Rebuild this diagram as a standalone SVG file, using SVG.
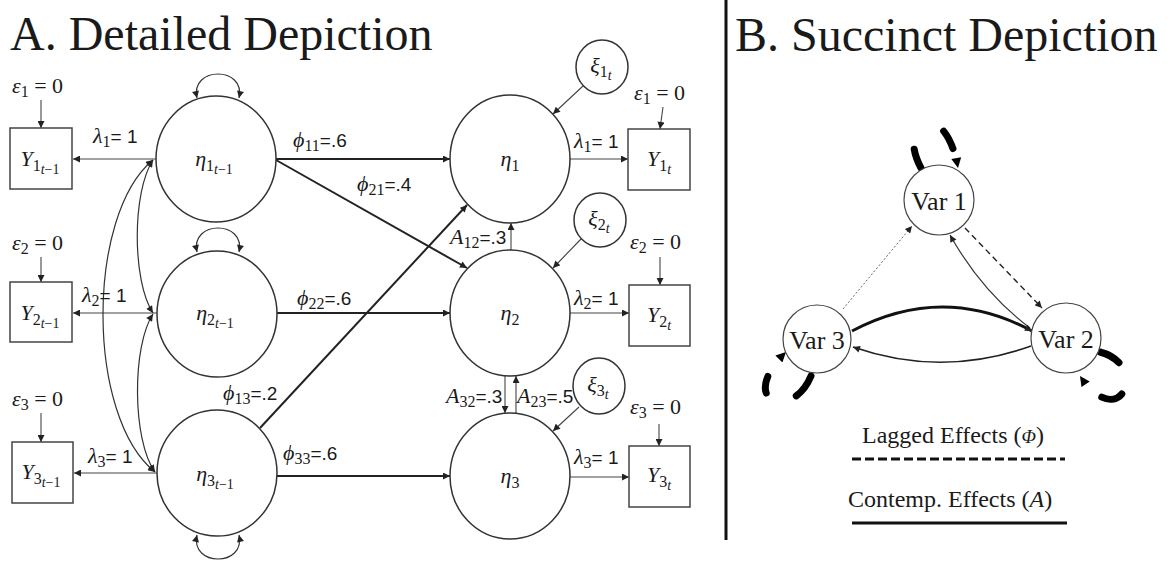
<svg xmlns="http://www.w3.org/2000/svg" width="1173" height="565" viewBox="0 0 1173 565">
<style>
text{fill:#1a1a1a}
.title{font-family:"Liberation Serif","Times New Roman","DejaVu Serif",serif;font-size:48px}
.gi{font-family:"Liberation Serif","Times New Roman","DejaVu Serif",serif;font-style:italic;font-size:22px}
.sb{font-family:"Liberation Serif","Times New Roman","DejaVu Serif",serif;font-size:16px;font-style:normal}
.ss{font-family:"Liberation Serif","Times New Roman","DejaVu Serif",serif;font-size:14px}
.it{font-style:italic}
.sn{font-family:"Liberation Sans",Arial,sans-serif;font-size:19px}
.eq{font-family:"Liberation Serif","Times New Roman","DejaVu Serif",serif;font-size:22px}
.var{font-family:"Liberation Serif","Times New Roman","DejaVu Serif",serif;font-size:26px}
.leg{font-family:"Liberation Serif","Times New Roman","DejaVu Serif",serif;font-size:24px}
.node{fill:#fff;stroke:#333;stroke-width:1.5}
.box{fill:#fff;stroke:#444;stroke-width:1.5}
.thin{fill:none;stroke:#444;stroke-width:1.1;marker-end:url(#ah)}
.thick{fill:none;stroke:#222;stroke-width:2;marker-end:url(#ah)}
.cov{fill:none;stroke:#333;stroke-width:1.2;marker-start:url(#ah);marker-end:url(#ah)}
.loopd{fill:none;stroke:#000;stroke-width:7;stroke-linecap:round;marker-end:url(#ahb)}
</style>
<defs>
<marker id="ah" viewBox="0 0 10 10" refX="10" refY="5" markerWidth="8" markerHeight="7" markerUnits="userSpaceOnUse" orient="auto-start-reverse"><path d="M0,0 L10,5 L0,10 z" fill="#222"/></marker>
<marker id="ahb" viewBox="0 0 10 10" refX="10" refY="5" markerWidth="12" markerHeight="10" markerUnits="userSpaceOnUse" orient="auto"><path d="M0,0 L10,5 L0,10 z" fill="#000"/></marker>
</defs>
<rect width="1173" height="565" fill="#fff"/>

<text class="title" x="10" y="50">A. Detailed Depiction</text>
<text class="title" x="735" y="51">B. Succinct Depiction</text>
<line x1="726" y1="0" x2="726" y2="540" stroke="#111" stroke-width="3"/>

<g id="connectors">
  <line class="thin" x1="41" y1="100" x2="41" y2="128"/>
  <line class="thin" x1="41" y1="257" x2="41" y2="282"/>
  <line class="thin" x1="41" y1="413" x2="41" y2="442"/>
  <line class="thin" x1="157" y1="159" x2="73" y2="159"/>
  <line class="thin" x1="157" y1="313" x2="73" y2="313"/>
  <line class="thin" x1="157" y1="473" x2="74" y2="473"/>
  <path class="cov" d="M153,160 C132,192 132,281 153,313"/>
  <path class="cov" d="M153,314 C132,346 132,440 155,472"/>
  <path class="cov" d="M153,160 C86,215 86,417 155,472"/>
  <path class="cov" d="M197,98 C190,66 246,66 239,98"/>
  <path class="cov" d="M197,252 C190,220 246,220 239,252"/>
  <path class="cov" d="M197,535 C190,567 246,567 239,535"/>
  <line class="thick" x1="276" y1="159" x2="450" y2="159"/>
  <line class="thick" x1="276" y1="160" x2="467" y2="268"/>
  <line class="thick" x1="260" y1="428" x2="467" y2="205"/>
  <line class="thick" x1="277" y1="313" x2="450" y2="313"/>
  <line class="thick" x1="277" y1="476" x2="450" y2="476"/>
  <line class="thin" x1="511" y1="250" x2="511" y2="223"/>
  <line class="thin" x1="505" y1="376" x2="505" y2="413"/>
  <line class="thin" x1="516" y1="413" x2="516" y2="376"/>
  <line class="thin" x1="583" y1="86" x2="553" y2="114"/>
  <line class="thin" x1="581" y1="239" x2="553" y2="268"/>
  <line class="thin" x1="579" y1="407" x2="553" y2="431"/>
  <line class="thin" x1="570" y1="159" x2="628" y2="159"/>
  <line class="thin" x1="570" y1="313" x2="629" y2="313"/>
  <line class="thin" x1="570" y1="477" x2="629" y2="477"/>
  <line class="thin" x1="663" y1="107" x2="660" y2="129"/>
  <line class="thin" x1="660" y1="257" x2="660" y2="285"/>
  <line class="thin" x1="659" y1="424" x2="659" y2="446"/>

  <line x1="843" y1="309" x2="912" y2="226" fill="none" stroke="#666" stroke-width="1" stroke-dasharray="2 2" marker-end="url(#ah)"/>
  <line x1="965" y1="228" x2="1042" y2="308" fill="none" stroke="#222" stroke-width="1.4" stroke-dasharray="6 4" marker-end="url(#ah)"/>
  <path d="M1030,328 Q982,292 950,235" fill="none" stroke="#333" stroke-width="1.2" marker-end="url(#ah)"/>
  <path d="M852,331 Q943,283 1032,331" fill="none" stroke="#111" stroke-width="3" marker-end="url(#ah)"/>
  <path d="M1031,346 Q942,378 853,347" fill="none" stroke="#222" stroke-width="1.6" marker-end="url(#ah)"/>
  <path class="loopd" d="M921,168 C895,120 945,95 958,168" stroke-dasharray="20 53 20 80"/>
  <path class="loopd" d="M811,376 C792,422 735,402 786,352" stroke-dasharray="25 35 17 80"/>
  <path class="loopd" d="M1100,352 C1150,365 1120,435 1080,376" stroke-dasharray="22 34 22 80"/>

  <line x1="852" y1="459" x2="1065" y2="459" stroke="#111" stroke-width="3" stroke-dasharray="9 4"/>
  <line x1="852" y1="523" x2="1067" y2="523" stroke="#111" stroke-width="3"/>
</g>

<g id="eps1_lag"><text class="eq" x="12" y="93"><tspan class="it">ε</tspan><tspan class="sb" dy="4">1</tspan><tspan dy="-4"> = 0</tspan></text></g>
<g id="eps2_lag"><text class="eq" x="12" y="250"><tspan class="it">ε</tspan><tspan class="sb" dy="4">2</tspan><tspan dy="-4"> = 0</tspan></text></g>
<g id="eps3_lag"><text class="eq" x="12" y="406"><tspan class="it">ε</tspan><tspan class="sb" dy="4">3</tspan><tspan dy="-4"> = 0</tspan></text></g>

<g id="Y1_lag"><rect class="box" x="10" y="128" width="62" height="61"/><text x="40" y="166" text-anchor="middle"><tspan class="gi">Y</tspan><tspan class="sb" dy="5">1</tspan><tspan class="ss" dy="3"><tspan class="it">t</tspan>−1</tspan></text></g>
<g id="Y2_lag"><rect class="box" x="10" y="282" width="62" height="60"/><text x="40" y="320" text-anchor="middle"><tspan class="gi">Y</tspan><tspan class="sb" dy="5">2</tspan><tspan class="ss" dy="3"><tspan class="it">t</tspan>−1</tspan></text></g>
<g id="Y3_lag"><rect class="box" x="12" y="442" width="61" height="61"/><text x="41" y="479" text-anchor="middle"><tspan class="gi">Y</tspan><tspan class="sb" dy="5">3</tspan><tspan class="ss" dy="3"><tspan class="it">t</tspan>−1</tspan></text></g>

<g id="lam_lag"><text x="93" y="143"><tspan class="gi">λ</tspan><tspan class="sb" dy="4">1</tspan><tspan class="sn" dy="-4">= 1</tspan></text>
<text x="82" y="302"><tspan class="gi">λ</tspan><tspan class="sb" dy="4">2</tspan><tspan class="sn" dy="-4">= 1</tspan></text>
<text x="88" y="463"><tspan class="gi">λ</tspan><tspan class="sb" dy="4">3</tspan><tspan class="sn" dy="-4">= 1</tspan></text></g>

<g id="eta1_lag"><ellipse class="node" cx="216" cy="159" rx="60" ry="63"/><text x="214" y="166" text-anchor="middle"><tspan class="gi">η</tspan><tspan class="sb" dy="5">1</tspan><tspan class="ss" dy="3"><tspan class="it">t</tspan>−1</tspan></text></g>
<g id="eta2_lag"><ellipse class="node" cx="217" cy="314" rx="60" ry="63"/><text x="215" y="320" text-anchor="middle"><tspan class="gi">η</tspan><tspan class="sb" dy="5">2</tspan><tspan class="ss" dy="3"><tspan class="it">t</tspan>−1</tspan></text></g>
<g id="eta3_lag"><ellipse class="node" cx="217" cy="473" rx="60" ry="63"/><text x="215" y="481" text-anchor="middle"><tspan class="gi">η</tspan><tspan class="sb" dy="5">3</tspan><tspan class="ss" dy="3"><tspan class="it">t</tspan>−1</tspan></text></g>

<g id="phi_labels">
<text x="293" y="147"><tspan class="gi">ϕ</tspan><tspan class="sb" dy="4">11</tspan><tspan class="sn" dy="-4">=.6</tspan></text>
<text x="357" y="191"><tspan class="gi">ϕ</tspan><tspan class="sb" dy="4">21</tspan><tspan class="sn" dy="-4">=.4</tspan></text>
<text x="297" y="305"><tspan class="gi">ϕ</tspan><tspan class="sb" dy="4">22</tspan><tspan class="sn" dy="-4">=.6</tspan></text>
<text x="223" y="400"><tspan class="gi">ϕ</tspan><tspan class="sb" dy="4">13</tspan><tspan class="sn" dy="-4">=.2</tspan></text>
<text x="283" y="460"><tspan class="gi">ϕ</tspan><tspan class="sb" dy="4">33</tspan><tspan class="sn" dy="-4">=.6</tspan></text>
<text x="450" y="244"><tspan class="gi">A</tspan><tspan class="sb" dy="4">12</tspan><tspan class="sn" dy="-4">=.3</tspan></text>
<text x="446" y="403"><tspan class="gi">A</tspan><tspan class="sb" dy="4">32</tspan><tspan class="sn" dy="-4">=.3</tspan></text>
<text x="517" y="403"><tspan class="gi">A</tspan><tspan class="sb" dy="4">23</tspan><tspan class="sn" dy="-4">=.5</tspan></text>
</g>

<g id="eta1"><ellipse class="node" cx="510" cy="159" rx="60" ry="64"/><text x="510" y="166" text-anchor="middle"><tspan class="gi">η</tspan><tspan class="sb" dy="5">1</tspan></text></g>
<g id="eta2"><ellipse class="node" cx="510" cy="313" rx="60" ry="63"/><text x="510" y="320" text-anchor="middle"><tspan class="gi">η</tspan><tspan class="sb" dy="5">2</tspan></text></g>
<g id="eta3"><ellipse class="node" cx="510" cy="476" rx="60" ry="63"/><text x="510" y="483" text-anchor="middle"><tspan class="gi">η</tspan><tspan class="sb" dy="5">3</tspan></text></g>

<g id="xi1"><ellipse class="node" cx="602" cy="67" rx="26" ry="27"/><text x="601" y="73" text-anchor="middle"><tspan class="gi">ξ</tspan><tspan class="sb" dy="4">1</tspan><tspan class="ss it" dy="3">t</tspan></text></g>
<g id="xi2"><ellipse class="node" cx="600" cy="220" rx="26" ry="27"/><text x="599" y="226" text-anchor="middle"><tspan class="gi">ξ</tspan><tspan class="sb" dy="4">2</tspan><tspan class="ss it" dy="3">t</tspan></text></g>
<g id="xi3"><ellipse class="node" cx="599" cy="386" rx="26" ry="28"/><text x="598" y="392" text-anchor="middle"><tspan class="gi">ξ</tspan><tspan class="sb" dy="4">3</tspan><tspan class="ss it" dy="3">t</tspan></text></g>

<g id="lam_t"><text x="574" y="148"><tspan class="gi">λ</tspan><tspan class="sb" dy="4">1</tspan><tspan class="sn" dy="-4">= 1</tspan></text>
<text x="574" y="305"><tspan class="gi">λ</tspan><tspan class="sb" dy="4">2</tspan><tspan class="sn" dy="-4">= 1</tspan></text>
<text x="574" y="464"><tspan class="gi">λ</tspan><tspan class="sb" dy="4">3</tspan><tspan class="sn" dy="-4">= 1</tspan></text></g>

<g id="eps1_t"><text class="eq" x="634" y="100"><tspan class="it">ε</tspan><tspan class="sb" dy="4">1</tspan><tspan dy="-4"> = 0</tspan></text></g>
<g id="eps2_t"><text class="eq" x="630" y="249"><tspan class="it">ε</tspan><tspan class="sb" dy="4">2</tspan><tspan dy="-4"> = 0</tspan></text></g>
<g id="eps3_t"><text class="eq" x="630" y="414"><tspan class="it">ε</tspan><tspan class="sb" dy="4">3</tspan><tspan dy="-4"> = 0</tspan></text></g>

<g id="Y1_t"><rect class="box" x="628" y="129" width="62" height="61"/><text x="659" y="166" text-anchor="middle"><tspan class="gi">Y</tspan><tspan class="sb" dy="5">1</tspan><tspan class="ss it" dy="3">t</tspan></text></g>
<g id="Y2_t"><rect class="box" x="629" y="285" width="61" height="61"/><text x="659" y="322" text-anchor="middle"><tspan class="gi">Y</tspan><tspan class="sb" dy="5">2</tspan><tspan class="ss it" dy="3">t</tspan></text></g>
<g id="Y3_t"><rect class="box" x="629" y="446" width="61" height="61"/><text x="659" y="482" text-anchor="middle"><tspan class="gi">Y</tspan><tspan class="sb" dy="5">3</tspan><tspan class="ss it" dy="3">t</tspan></text></g>

<g id="var1"><circle cx="939" cy="200" r="35" fill="#fff" stroke="#444" stroke-width="1.2"/><text class="var" x="939" y="210" text-anchor="middle">Var 1</text></g>
<g id="var2"><circle cx="1066" cy="338" r="35" fill="#fff" stroke="#444" stroke-width="1.2"/><text class="var" x="1066" y="348" text-anchor="middle">Var 2</text></g>
<g id="var3"><circle cx="817" cy="339" r="34" fill="#fff" stroke="#444" stroke-width="1.2"/><text class="var" x="817" y="349" text-anchor="middle">Var 3</text></g>

<g id="legend">
<text class="leg" x="862" y="443">Lagged Effects (<tspan class="it" font-size="19">Φ</tspan>)</text>
<text class="leg" x="848" y="507">Contemp. Effects (<tspan class="it">A</tspan>)</text>
</g>
</svg>
